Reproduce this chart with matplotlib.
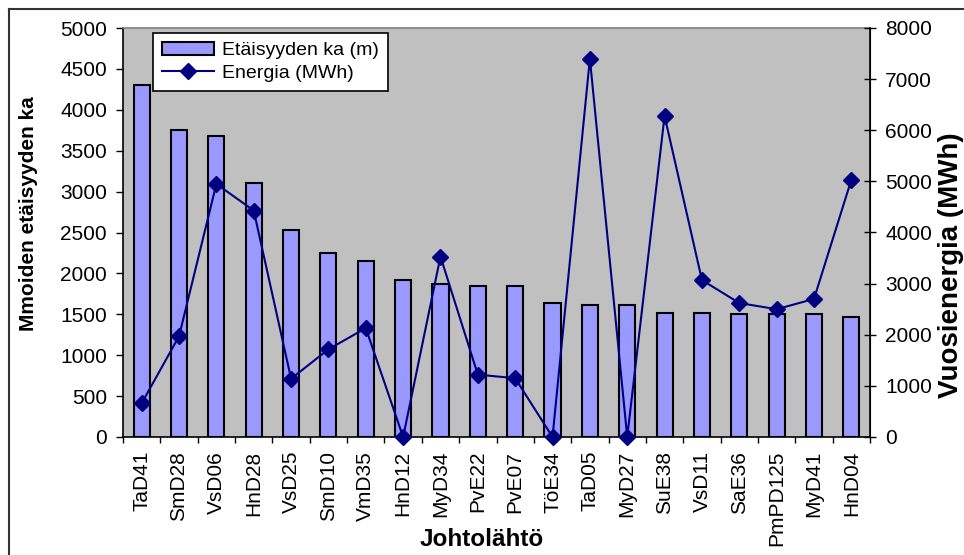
import matplotlib
matplotlib.use("Agg")
import matplotlib.pyplot as plt
from matplotlib.lines import Line2D
import numpy as np

plt.rcParams['font.family'] = ['Liberation Sans', 'DejaVu Sans']

# Johtolähdöt ja niiden arvot
lahdot = ['TaD41', 'SmD28', 'VsD06', 'HnD28', 'VsD25', 'SmD10', 'VmD35', 'HnD12',
          'MyD34', 'PvE22', 'PvE07', 'TöE34', 'TaD05', 'MyD27', 'SuE38', 'VsD11',
          'SaE36', 'PmPD125', 'MyD41', 'HnD04']
etaisyys = [4300, 3750, 3680, 3100, 2530, 2250, 2150, 1920, 1870, 1850,
            1850, 1640, 1615, 1615, 1520, 1520, 1500, 1500, 1500, 1470]
energia = [660, 1970, 4950, 4430, 1140, 1715, 2130, 0, 3530, 1220,
           1150, 0, 7400, 0, 6280, 3070, 2620, 2500, 2700, 5030]

W, H = 964, 555
fig = plt.figure(figsize=(W / 100, H / 100), dpi=100)
ax = fig.add_axes([123 / W, 1 - 437 / H, (870 - 123) / W, (437 - 28) / H])
ax.set_facecolor('#C0C0C0')

x = np.arange(len(lahdot))
bars = ax.bar(x, etaisyys, width=0.43, color='#9999FF', edgecolor='black',
              linewidth=1.5, label='Etäisyyden ka (m)', zorder=2)
ax.set_xlim(-0.5, len(lahdot) - 0.5)
ax.set_ylim(0, 5000)
ax.set_yticks(range(0, 5001, 500))
ax.set_xticks(x)
ax.set_xticklabels(lahdot, rotation=90, fontsize=15)
ax.set_xticks(np.arange(-0.5, len(lahdot)), minor=True)
ax.tick_params(axis='x', which='major', length=0, pad=10)
ax.tick_params(axis='x', which='minor', length=4.5, direction='out', width=1)
ax.tick_params(axis='y', length=5, direction='out', width=1, labelsize=15, pad=6.5)
ax.spines['top'].set_color('#808080')
ax.spines['top'].set_linewidth(1.2)
for s in ('left', 'bottom'):
    ax.spines[s].set_linewidth(1.2)

ax2 = ax.twinx()
line, = ax2.plot(x, energia, color='#000080', marker='D', markersize=8,
                 linewidth=1.5, label='Energia (MWh)', clip_on=False, zorder=3)
ax2.set_ylim(0, 8000)
ax2.set_yticks(range(0, 8001, 1000))
ax2.tick_params(axis='y', length=8, direction='inout', width=1, labelsize=15, pad=7)
ax2.spines['right'].set_linewidth(1.2)
ax2.spines['top'].set_visible(False)
ax2.spines['left'].set_visible(False)
ax2.spines['bottom'].set_visible(False)

fig.text(29 / W, 1 - 214 / H, 'Mmoiden etäisyyden ka', rotation=90,
         ha='center', va='center', fontsize=15, fontweight='bold')
fig.text(951 / W, 1 - 265 / H, 'Vuosienergia (MWh)', rotation=90,
         ha='center', va='center', fontsize=20, fontweight='bold')
fig.text(482 / W, 1 - 546 / H, 'Johtolähtö', ha='center', va='baseline',
         fontsize=17.5, fontweight='bold')

leg = fig.legend(handles=[bars, line], loc='upper left',
                 bbox_to_anchor=(153 / W, 1 - 33 / H), fontsize=14,
                 frameon=True, fancybox=False, framealpha=1,
                 edgecolor='black', borderpad=0.45, labelspacing=0.25,
                 handlelength=2.7, handletextpad=0.4, borderaxespad=0)
leg.get_frame().set_linewidth(1.2)

# kehys kuvan ympärille
fig.add_artist(Line2D([8.5 / W, 8.5 / W], [0, 1 - 8.5 / H], color='#333333', lw=1.5))
fig.add_artist(Line2D([8.5 / W, 1], [1 - 8.5 / H, 1 - 8.5 / H], color='#333333', lw=1.5))

fig.savefig('out.png', dpi=100)
